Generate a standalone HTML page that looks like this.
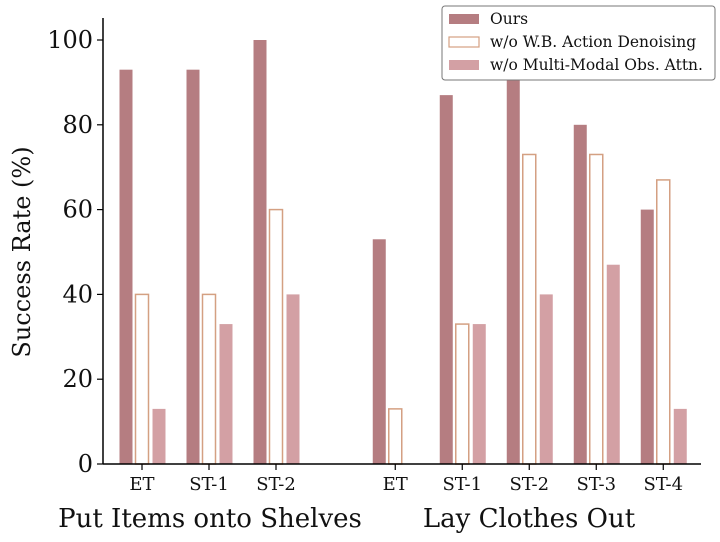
<!DOCTYPE html>
<html><head><meta charset="utf-8"><style>
body{margin:0;background:#fff;}
svg{display:block;font-family:"DejaVu Serif","Liberation Serif",serif;}
</style></head><body>
<svg id="chart" width="720" height="542"></svg>
<script>
const categories=["ET","ST-1","ST-2","ET","ST-1","ST-2","ST-3","ST-4"];
const catPos=[0,1,2,3.78,4.78,5.78,6.78,7.78];
const oursVals=[93,93,100,53,87,93,80,60];
const wbVals=[40,40,60,13,33,73,73,67];
const mmVals=[13,33,40,0,33,40,47,13];
const yTicks=[0,20,40,60,80,100];
const svg=document.getElementById('chart');
const NS='http://www.w3.org/2000/svg';
const x0=142,dx=67,yBase=464,yTop=40;
const X=p=>x0+p*dx;
const Y=v=>yBase-(yBase-yTop)*v/100;
function mk(t,a,txt){const e=document.createElementNS(NS,t);for(const k in a)e.setAttribute(k,a[k]);if(txt!==undefined)e.textContent=txt;svg.appendChild(e);return e;}
const series=[{v:oursVals,off:-16,fill:'#b57d81',stroke:'none',n:'ours'},{v:wbVals,off:0,fill:'#fff',stroke:'#d4a082',n:'wb'},{v:mmVals,off:17,fill:'#d3a0a4',stroke:'none',n:'mm'}];
series.forEach(s=>{s.v.forEach((v,i)=>{
const w=13,cx=X(catPos[i])+s.off;
const r=mk('rect',{x:cx-w/2,y:Y(v),width:w,height:yBase-Y(v),fill:s.fill,stroke:s.stroke,'stroke-width':1.5});


});});
let a=mk('line',{x1:103,y1:18,x2:103,y2:yBase,stroke:'#000','stroke-width':1.5});

a=mk('line',{x1:103,y1:yBase,x2:701,y2:yBase,stroke:'#000','stroke-width':1.5});

yTicks.forEach(t=>{
mk('line',{x1:97,y1:Y(t),x2:103,y2:Y(t),stroke:'#000','stroke-width':1.2});
const tx=mk('text',{x:93,y:Y(t)+8,'text-anchor':'end','font-size':24,fill:'#111'},t);


});
categories.forEach((c,i)=>{
mk('line',{x1:X(catPos[i]),y1:yBase,x2:X(catPos[i]),y2:yBase+6,stroke:'#000','stroke-width':1.2});
const tx=mk('text',{x:X(catPos[i]),y:490,'text-anchor':'middle','font-size':18,fill:'#111'},c);


});
let t=mk('text',{x:0,y:0,transform:'translate(30,252) rotate(-90)','text-anchor':'middle','font-size':24,fill:'#111'},'Success Rate (%)');

t=mk('text',{x:210,y:527,'text-anchor':'middle','font-size':26,fill:'#111'},'Put Items onto Shelves');

t=mk('text',{x:529,y:527,'text-anchor':'middle','font-size':26,fill:'#111'},'Lay Clothes Out');

const lg=mk('rect',{x:442,y:6,width:273,height:74,rx:3,fill:'#fff',stroke:'#777','stroke-width':1});

const labels=['Ours','w/o W.B. Action Denoising','w/o Multi-Modal Obs. Attn.'];
series.forEach((s,i)=>{
const yy=19+i*23;
const r=mk('rect',{x:449,y:yy-5,width:30,height:10,fill:s.fill,stroke:s.stroke,'stroke-width':1.2});

const tx=mk('text',{x:490,y:yy+5,'font-size':15.5,fill:'#111'},labels[i]);

});
</script>
</body></html>
